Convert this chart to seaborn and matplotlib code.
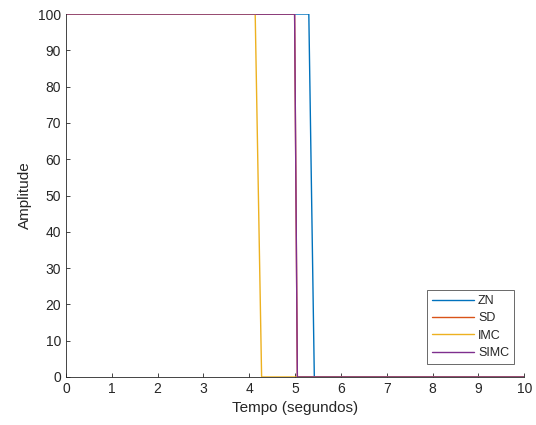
import pandas as pd
import seaborn as sns
import matplotlib.pyplot as plt

# datos
t_zn = [0, 5.30, 5.42, 10]
y_zn = [100, 100, 0, 0]
t_sd = [0, 4.99, 5.05, 10]
y_sd = [100, 100, 0, 0]
t_imc = [0, 4.13, 4.27, 10]
y_imc = [100, 100, 0, 0]
t_simc = [0, 4.99, 5.05, 10]
y_simc = [100, 100, 0, 0]

nombres = ['ZN', 'SD', 'IMC', 'SIMC']
colores = ['#0072BD', '#D95319', '#EDB120', '#7E2F8E']

df = pd.concat([
    pd.DataFrame({'t': t_zn, 'y': y_zn, 'metodo': 'ZN'}),
    pd.DataFrame({'t': t_sd, 'y': y_sd, 'metodo': 'SD'}),
    pd.DataFrame({'t': t_imc, 'y': y_imc, 'metodo': 'IMC'}),
    pd.DataFrame({'t': t_simc, 'y': y_simc, 'metodo': 'SIMC'}),
], ignore_index=True)

sns.set_style('white')
plt.rcParams['font.family'] = ['Liberation Sans', 'DejaVu Sans']

fig = plt.figure(figsize=(5.36, 4.25), dpi=100)
ax = fig.add_axes([0.123, 0.113, 0.855, 0.854])

sns.lineplot(data=df, x='t', y='y', hue='metodo', hue_order=nombres,
             palette=colores, estimator=None, sort=False, linewidth=1.0, ax=ax)

ax.set_xlim(0, 10)
ax.set_ylim(0, 100)
ax.set_xticks(range(0, 11))
ax.set_yticks(range(0, 101, 10))
ax.set_xlabel('Tempo (segundos)', fontsize=11, color='#262626')
ax.set_ylabel('Amplitude', fontsize=11, color='#262626')
ax.tick_params(direction='in', length=3, width=0.6, labelsize=10,
               colors='#262626', bottom=True, left=True)
for lado in ['top', 'right']:
    ax.spines[lado].set_visible(False)
for lado in ['left', 'bottom']:
    ax.spines[lado].set_color('#262626')
    ax.spines[lado].set_linewidth(0.6)

leg = ax.legend(loc='lower right', bbox_to_anchor=(0.978, 0.036), fontsize=9,
                frameon=True, fancybox=False, handlelength=3.4,
                handletextpad=0.3, borderpad=0.4, labelspacing=0.42,
                borderaxespad=0)
leg.get_frame().set_edgecolor('#262626')
leg.get_frame().set_linewidth(0.6)
for linea in leg.get_lines():
    linea.set_linewidth(1.0)

fig.savefig('out.png', dpi=100)
